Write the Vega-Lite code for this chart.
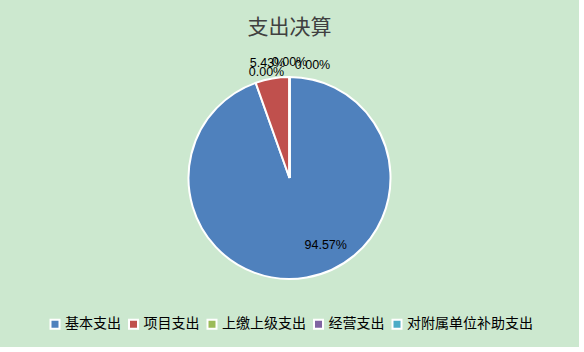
{
  "$schema": "https://vega.github.io/schema/vega-lite/v6.json",
  "width": 579,
  "height": 347,
  "autosize": "none",
  "padding": {"top": 0, "left": 0, "right": 5, "bottom": 5},
  "background": "white",
  "view": {"fill": "#CCE8CF", "stroke": null},
  "title": {
    "text": "支出决算",
    "fontSize": 21,
    "font": "Noto Sans CJK SC",
    "fontWeight": "normal",
    "color": "#404040",
    "anchor": "middle",
    "frame": "group",
    "offset": -38
  },
  "config": {
    "view": {"fill": "#CCE8CF", "stroke": null}
  },
  "data": {
    "values": [
      {"category": "基本支出", "idx": 0, "share": 0.9457},
      {"category": "项目支出", "idx": 1, "share": 0.0543},
      {"category": "上缴上级支出", "idx": 2, "share": 0},
      {"category": "经营支出", "idx": 3, "share": 0},
      {"category": "对附属单位补助支出", "idx": 4, "share": 0}
    ]
  },
  "encoding": {
    "theta": {"field": "share", "type": "quantitative", "stack": true},
    "order": {"field": "idx", "type": "quantitative"}
  },
  "layer": [
    {
      "mark": {"type": "arc", "outerRadius": 101, "stroke": "white", "strokeWidth": 2, "y": {"expr": "height/2 + 4.5"}},
      "encoding": {
        "color": {
          "field": "category",
          "type": "nominal",
          "scale": {
            "domain": ["基本支出", "项目支出", "上缴上级支出", "经营支出", "对附属单位补助支出"],
            "range": ["#4F81BD", "#C0504D", "#9BBB59", "#8064A2", "#4BACC6"]
          },
          "legend": {
            "orient": "none",
            "legendX": 48,
            "legendY": 317,
            "direction": "horizontal",
            "title": null,
            "symbolType": "square",
            "symbolSize": 81,
            "symbolStrokeColor": "white",
            "symbolStrokeWidth": 2,
            "symbolOpacity": 1,
            "labelFont": "Noto Sans CJK SC",
            "labelFontSize": 14,
            "labelColor": "#000000",
            "labelOffset": 3,
            "columnPadding": 3.5,
            "labelLimit": 300
          }
        }
      }
    },
    {
      "mark": {"type": "text", "radius": 72, "dx": 24, "dy": -4, "fontSize": 12.5, "font": "Liberation Sans", "color": "#000000", "baseline": "middle", "align": "center", "y": {"expr": "height/2 + 4.5"}},
      "encoding": {
        "text": {"condition": {"test": "datum.category === '基本支出'", "field": "share", "format": ".2%"}, "value": ""}
      }
    },
    {
      "mark": {"type": "text", "radius": 112, "dx": -3, "dy": -5, "fontSize": 12.5, "font": "Liberation Sans", "color": "#000000", "baseline": "middle", "align": "center", "y": {"expr": "height/2 + 4.5"}},
      "encoding": {
        "text": {"condition": {"test": "datum.category === '项目支出'", "field": "share", "format": ".2%"}, "value": ""}
      }
    },
    {
      "mark": {"type": "text", "radius": 112, "dx": -23, "dy": 6, "fontSize": 12.5, "font": "Liberation Sans", "color": "#000000", "baseline": "middle", "align": "center", "y": {"expr": "height/2 + 4.5"}},
      "encoding": {
        "text": {"condition": {"test": "datum.category === '上缴上级支出'", "field": "share", "format": ".2%"}, "value": ""}
      }
    },
    {
      "mark": {"type": "text", "radius": 112, "dx": 0, "dy": -4, "fontSize": 12.5, "font": "Liberation Sans", "color": "#000000", "baseline": "middle", "align": "center", "y": {"expr": "height/2 + 4.5"}},
      "encoding": {
        "text": {"condition": {"test": "datum.category === '经营支出'", "field": "share", "format": ".2%"}, "value": ""}
      }
    },
    {
      "mark": {"type": "text", "radius": 112, "dx": 23, "dy": -1, "fontSize": 12.5, "font": "Liberation Sans", "color": "#000000", "baseline": "middle", "align": "center", "y": {"expr": "height/2 + 4.5"}},
      "encoding": {
        "text": {"condition": {"test": "datum.category === '对附属单位补助支出'", "field": "share", "format": ".2%"}, "value": ""}
      }
    }
  ]
}
